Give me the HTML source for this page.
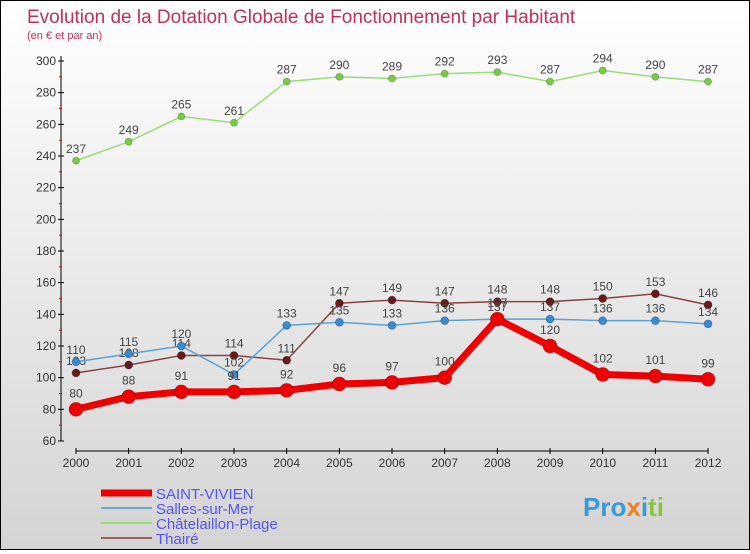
<!DOCTYPE html>
<html><head><meta charset="utf-8"><style>
body{margin:0;width:750px;height:550px;overflow:hidden;font-family:"Liberation Sans","DejaVu Sans",sans-serif}
#wrap{position:absolute;left:0;top:0;width:748px;height:548px;border:1px solid #000;background:linear-gradient(#ffffff,#d4d4d4)}
</style></head><body>
<div id="wrap">
<svg id="svg" width="748" height="548" xmlns="http://www.w3.org/2000/svg">
<text x="26" y="22" font-size="19" fill="#c0305a">Evolution de la Dotation Globale de Fonctionnement par Habitant</text>
<text x="26" y="38" font-size="11" fill="#c0305a">(en € et par an)</text>
<g id="axes"></g><g id="series"></g><g id="legend"></g>
<text x="582" y="515" font-size="26" font-weight="bold" fill="#3a9ad9">Pro<tspan fill="#f08020">x</tspan>i<tspan fill="#8ac43f">ti</tspan></text>
</svg></div>
<script>
const years=[2000,2001,2002,2003,2004,2005,2006,2007,2008,2009,2010,2011,2012];
const yTicks=[60,80,100,120,140,160,180,200,220,240,260,280,300];
const saintVivien=[80,88,91,91,92,96,97,100,137,120,102,101,99];
const salles=[110,115,120,102,133,135,133,136,137,137,136,136,134];
const chatelaillon=[237,249,265,261,287,290,289,292,293,287,294,290,287];
const thaire=[103,108,114,114,111,147,149,147,148,148,150,153,146];
const seriesNames=["SAINT-VIVIEN","Salles-sur-Mer","Châtelaillon-Plage","Thairé"];
const NS="http://www.w3.org/2000/svg";
const X=i=>75+i*52.67;
const Y=v=>440-(v-60)*380/240;
function mk(t,a,p){const e=document.createElementNS(NS,t);for(const k in a)e.setAttribute(k,a[k]);p.appendChild(e);return e;}
const ax=document.getElementById('axes');
let l=mk('line',{x1:60,y1:55,x2:60,y2:440,stroke:'#000'},ax);


l=mk('line',{x1:75,y1:450,x2:707,y2:450,stroke:'#000'},ax);


yTicks.forEach((v,i)=>{
 mk('line',{x1:57,y1:Y(v),x2:63,y2:Y(v),stroke:'#000'},ax);
 if(i<yTicks.length-1) mk('line',{x1:58,y1:Y(v+10),x2:61,y2:Y(v+10),stroke:'#e00'},ax);
 const t=mk('text',{x:55,y:Y(v)+4,'text-anchor':'end','font-size':12,fill:'#333'},ax);t.textContent=v;
 
 
});
years.forEach((y,i)=>{
 mk('line',{x1:X(i),y1:447,x2:X(i),y2:453,stroke:'#000'},ax);
 const t=mk('text',{x:X(i),y:466,'text-anchor':'middle','font-size':12,fill:'#333'},ax);t.textContent=y;
 
 
});
const sg=document.getElementById('series');
const defs=[[chatelaillon,'#99dd77','#77cc44',1.5,3.5],[thaire,'#884444','#661a1a',1.5,4],[salles,'#5aa2d6','#3a8ad0',1.5,4],[saintVivien,'#ee0000','#ee0000',7,7]];
const names=['chatelaillon','thaire','salles','saint-vivien'];
defs.forEach((d,k)=>{
 const [vals,lc,pc,w,r]=d;
 const g=mk('g',{},sg);
 
 
 const p=mk('polyline',{points:vals.map((v,i)=>X(i)+','+Y(v)).join(' '),fill:'none',stroke:lc,'stroke-width':w},g);
 
 
 vals.forEach((v,i)=>{
  const c=mk('circle',{cx:X(i),cy:Y(v),r:r,fill:pc,stroke:'rgba(0,0,0,0.3)','stroke-width':0.7},g);
  
  
  const t=mk('text',{x:X(i),y:Y(v)-(k==3?12:8),'text-anchor':'middle','font-size':12,fill:'#444'},g);t.textContent=v;
  
  
 });
});
const lg=document.getElementById('legend');
const lcol=['#ee0000','#6aa8d0','#99dd77','#996060'],lw=[7,2,2,2];
seriesNames.forEach((n,i)=>{
 const y=492+i*15;
 const g=mk('g',{},lg);
 
 
 mk('line',{x1:100,y1:y,x2:151,y2:y,stroke:lcol[i],'stroke-width':lw[i]},g);
 const t=mk('text',{x:155,y:y+6,'font-size':15,fill:'#5555ee'},g);t.textContent=n;
});
</script>
</body></html>
